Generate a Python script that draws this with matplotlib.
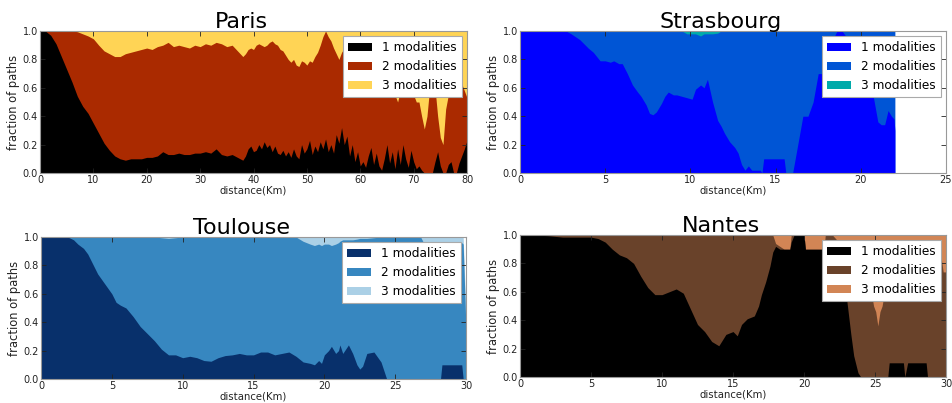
import matplotlib
matplotlib.use("Agg")
import matplotlib.pyplot as plt

labels = ["1 modalities", "2 modalities", "3 modalities"]

# ---------------- Paris ----------------
paris_km = [0, 1, 2, 3, 4, 5, 6, 7, 8, 9, 10, 11, 12, 13, 14, 15, 16, 17, 18, 19,
            20, 21, 22, 23, 24, 25, 26, 27, 28, 29, 30, 31, 32, 33, 34, 35, 36, 37, 38,
            38.5, 39, 39.5, 40, 40.5, 41, 41.5, 42, 42.5, 43, 43.5, 44, 44.5, 45, 45.5,
            46, 46.5, 47, 47.5, 48, 48.5, 49, 49.5, 50, 50.5, 51, 51.5, 52, 52.5, 53,
            53.5, 54, 54.5, 55, 55.5, 56, 56.5, 57, 57.5, 58, 58.5, 59, 59.5, 60, 60.5,
            61, 61.5, 62, 62.5, 63, 63.5, 64, 64.5, 65, 65.5, 66, 66.5, 67, 67.5, 68,
            68.5, 69, 69.5, 70, 70.5, 71, 71.5, 72, 72.5, 73, 73.5, 74, 74.5, 75, 75.5,
            76, 76.5, 77, 77.5, 78, 78.5, 79, 79.5, 80]
# share of paths with 1 modality
paris_one = [1.0, 1.0, 0.97, 0.91, 0.82, 0.73, 0.64, 0.54, 0.47, 0.42, 0.35, 0.28, 0.21,
             0.16, 0.12, 0.1, 0.09, 0.1, 0.1, 0.1, 0.11, 0.11, 0.12, 0.15, 0.13, 0.13,
             0.14, 0.13, 0.13, 0.14, 0.14, 0.15, 0.14, 0.17, 0.13, 0.12, 0.13, 0.11, 0.09,
             0.12, 0.17, 0.19, 0.15, 0.16, 0.2, 0.17, 0.22, 0.18, 0.2, 0.15, 0.19, 0.14,
             0.13, 0.16, 0.12, 0.15, 0.11, 0.17, 0.12, 0.1, 0.2, 0.14, 0.17, 0.23, 0.13,
             0.19, 0.15, 0.22, 0.17, 0.24, 0.15, 0.2, 0.14, 0.27, 0.21, 0.32, 0.2, 0.26,
             0.12, 0.2, 0.08, 0.15, 0.05, 0.08, 0.04, 0.12, 0.18, 0.06, 0.14, 0.05, 0.02,
             0.1, 0.2, 0.07, 0.15, 0.03, 0.17, 0.06, 0.2, 0.1, 0.04, 0.16, 0.08, 0.03,
             0.05, 0.02, 0.0, 0.0, 0.0, 0.0, 0.08, 0.15, 0.05, 0.0, 0.0, 0.06, 0.08, 0.0,
             0.0, 0.07, 0.12, 0.17, 0.23]
# share of paths with at most 2 modalities
paris_two = [1.0, 1.0, 1.0, 1.0, 1.0, 1.0, 1.0, 0.995, 0.98, 0.965, 0.945, 0.9, 0.86,
             0.84, 0.82, 0.82, 0.84, 0.85, 0.86, 0.87, 0.88, 0.87, 0.89, 0.9, 0.92, 0.89,
             0.9, 0.89, 0.88, 0.9, 0.89, 0.91, 0.9, 0.92, 0.91, 0.89, 0.9, 0.86, 0.82,
             0.84, 0.87, 0.88, 0.87, 0.9, 0.91, 0.9, 0.89, 0.9, 0.92, 0.93, 0.91, 0.9,
             0.87, 0.86, 0.83, 0.8, 0.78, 0.8, 0.76, 0.75, 0.79, 0.78, 0.76, 0.79, 0.78,
             0.82, 0.85, 0.9, 0.96, 1.0, 0.96, 0.93, 0.88, 0.84, 0.8, 0.85, 0.88, 0.86,
             0.84, 0.82, 0.85, 0.83, 0.8, 0.84, 0.82, 0.85, 0.83, 0.8, 0.82, 0.78, 0.8,
             0.76, 0.78, 0.72, 0.62, 0.55, 0.5, 0.58, 0.62, 0.6, 0.58, 0.6, 0.55, 0.5,
             0.5, 0.4, 0.31, 0.4, 0.6, 0.65, 0.6, 0.4, 0.25, 0.2, 0.45, 0.55, 0.58, 0.55,
             0.57, 0.6, 0.63, 0.58, 0.53]
paris_all = 1.0

# ---------------- Strasbourg ----------------
stras_km = [0, 1, 2, 2.7, 3.0, 3.5, 4.0, 4.3, 4.5, 4.7, 5.0, 5.3, 5.5, 5.8, 6.0, 6.3,
            6.6, 6.9, 7.1, 7.4, 7.6, 7.8, 8.0, 8.3, 8.5, 8.7, 9.0, 9.2, 9.5, 9.8, 10.1,
            10.3, 10.6, 10.8, 11.0, 11.3, 11.6, 11.8, 12.0, 12.3, 12.6, 12.8, 13.0, 13.2,
            13.4, 13.6, 14.1, 14.2, 14.3, 15.5, 15.6, 16.0, 16.3, 16.6, 16.9, 17.2, 17.5,
            17.8, 18.1, 18.4, 18.6, 18.9, 19.2, 19.5, 19.8, 20.1, 20.4, 20.7, 21.0, 21.2,
            21.4, 21.6, 21.8, 21.95, 22.0]
stras_one = [1.0, 1.0, 1.0, 1.0, 0.98, 0.94, 0.88, 0.85, 0.82, 0.79, 0.79, 0.78, 0.79,
             0.77, 0.77, 0.7, 0.62, 0.57, 0.54, 0.48, 0.42, 0.41, 0.43, 0.49, 0.54, 0.57,
             0.55, 0.55, 0.54, 0.53, 0.52, 0.59, 0.62, 0.6, 0.66, 0.5, 0.37, 0.33, 0.28,
             0.22, 0.18, 0.14, 0.06, 0.02, 0.05, 0.02, 0.02, 0.0, 0.1, 0.1, 0.0, 0.0, 0.2,
             0.4, 0.4, 0.5, 0.7, 0.7, 0.85, 0.95, 1.0, 1.0, 0.95, 0.88, 0.8, 0.72, 0.62,
             0.56, 0.36, 0.34, 0.34, 0.44, 0.4, 0.38, 0.3]
stras_two = [1.0, 1.0, 1.0, 1.0, 1.0, 1.0, 1.0, 1.0, 1.0, 1.0, 1.0, 1.0, 1.0, 1.0, 1.0,
             1.0, 1.0, 1.0, 1.0, 1.0, 1.0, 1.0, 1.0, 1.0, 1.0, 1.0, 1.0, 1.0, 1.0, 0.98,
             0.98, 0.98, 0.965, 0.98, 0.98, 0.98, 0.985, 1.0, 1.0, 1.0, 1.0, 1.0, 1.0,
             1.0, 1.0, 1.0, 1.0, 1.0, 1.0, 1.0, 1.0, 1.0, 1.0, 1.0, 1.0, 1.0, 1.0, 1.0,
             1.0, 1.0, 1.0, 1.0, 1.0, 1.0, 1.0, 1.0, 1.0, 1.0, 1.0, 1.0, 1.0, 1.0, 1.0,
             1.0, 1.0]
stras_all = 1.0

# ---------------- Toulouse ----------------
toul_km = [0, 1, 1.8, 2.0, 2.3, 2.6, 3.0, 3.3, 3.5, 4.0, 4.5, 5.0, 5.3, 5.6, 6.0, 6.5,
           7.0, 7.5, 8.0, 8.5, 9.0, 9.5, 10.0, 10.5, 11.0, 11.5, 12.0, 12.5, 13.0, 13.5,
           14.0, 14.5, 15.0, 15.5, 16.0, 16.5, 17.0, 17.5, 18.0, 18.5, 19.0, 19.3, 19.6,
           19.8, 20.0, 20.3, 20.5, 20.8, 21.0, 21.1, 21.3, 21.7, 22.0, 22.3, 22.5, 22.7,
           23.0, 23.5, 24.0, 24.4, 25.0, 26.0, 26.8, 27.0, 27.5, 28.0, 28.2, 28.3, 28.5,
           29.0, 29.5, 29.7, 29.8, 30.0]
toul_one = [1.0, 1.0, 1.0, 0.995, 0.98, 0.95, 0.92, 0.88, 0.84, 0.74, 0.67, 0.6, 0.54,
            0.52, 0.5, 0.44, 0.37, 0.32, 0.27, 0.21, 0.17, 0.17, 0.15, 0.16, 0.15, 0.13,
            0.125, 0.15, 0.165, 0.17, 0.18, 0.17, 0.17, 0.19, 0.19, 0.17, 0.18, 0.19,
            0.16, 0.12, 0.11, 0.1, 0.13, 0.11, 0.17, 0.2, 0.23, 0.18, 0.2, 0.24, 0.18,
            0.24, 0.18, 0.1, 0.07, 0.09, 0.18, 0.19, 0.12, 0.0, 0.0, 0.0, 0.0, 0.0, 0.0,
            0.0, 0.0, 0.1, 0.1, 0.1, 0.1, 0.1, 0.0, 0.0]
toul_two = [1.0, 1.0, 1.0, 1.0, 1.0, 1.0, 1.0, 1.0, 1.0, 1.0, 1.0, 1.0, 1.0, 1.0, 1.0,
            1.0, 1.0, 1.0, 1.0, 0.995, 0.99, 0.995, 1.0, 1.0, 1.0, 1.0, 1.0, 1.0, 1.0,
            1.0, 1.0, 1.0, 1.0, 1.0, 1.0, 1.0, 1.0, 1.0, 1.0, 0.97, 0.95, 0.94, 0.95,
            0.94, 0.95, 0.95, 0.94, 0.95, 0.96, 0.97, 0.98, 0.98, 0.98, 0.985, 0.99,
            0.99, 0.99, 0.995, 1.0, 1.0, 1.0, 1.0, 1.0, 0.96, 0.96, 0.96, 0.96, 0.96,
            0.965, 0.96, 0.96, 0.96, 0.95, 0.35]
toul_all = [1.0, 1.0, 1.0, 1.0, 1.0, 1.0, 1.0, 1.0, 1.0, 1.0, 1.0, 1.0, 1.0, 1.0, 1.0,
            1.0, 1.0, 1.0, 1.0, 1.0, 1.0, 1.0, 1.0, 1.0, 1.0, 1.0, 1.0, 1.0, 1.0, 1.0,
            1.0, 1.0, 1.0, 1.0, 1.0, 1.0, 1.0, 1.0, 1.0, 1.0, 1.0, 1.0, 1.0, 1.0, 1.0,
            1.0, 1.0, 1.0, 1.0, 1.0, 1.0, 1.0, 1.0, 1.0, 1.0, 1.0, 1.0, 1.0, 1.0, 1.0,
            1.0, 1.0, 1.0, 1.0, 1.0, 1.0, 1.0, 1.0, 1.0, 1.0, 1.0, 1.0, 1.0, 0.45]

# ---------------- Nantes ----------------
nant_km = [0, 1, 2, 2.5, 3, 4, 5, 5.5, 6, 6.5, 7, 7.5, 8, 8.5, 9, 9.5, 10, 10.5, 11,
           11.5, 12, 12.5, 13, 13.5, 14, 14.5, 15, 15.3, 15.6, 16, 16.5, 16.8, 17, 17.3,
           17.6, 17.8, 18.0, 18.3, 18.6, 19.0, 19.1, 19.3, 20.0, 20.1, 20.5, 21.0, 21.4,
           21.5, 22.0, 22.4, 22.5, 22.8, 23.0, 23.3, 23.5, 23.8, 24.0, 24.8, 24.9, 25.05,
           25.2, 25.35, 25.5, 25.6, 25.8, 25.9, 26.0, 27.0, 27.1, 27.3, 28.6, 28.7, 29.5,
           29.8, 30.0]
nant_one = [1.0, 1.0, 0.995, 0.99, 0.985, 0.985, 0.985, 0.975, 0.95, 0.9, 0.86, 0.84,
            0.8, 0.71, 0.63, 0.58, 0.58, 0.6, 0.62, 0.59, 0.48, 0.37, 0.32, 0.25, 0.22,
            0.3, 0.32, 0.29, 0.37, 0.41, 0.43, 0.5, 0.58, 0.67, 0.78, 0.88, 0.92, 0.9,
            0.9, 0.9, 0.95, 1.0, 1.0, 0.9, 0.9, 0.9, 0.9, 0.93, 0.93, 0.9, 0.88, 0.75,
            0.55, 0.3, 0.15, 0.03, 0.0, 0.0, 0.0, 0.0, 0.0, 0.0, 0.0, 0.0, 0.0, 0.0, 0.1,
            0.1, 0.0, 0.1, 0.1, 0.0, 0.0, 0.0, 0.0]
nant_two = [1.0, 1.0, 1.0, 1.0, 1.0, 1.0, 1.0, 1.0, 1.0, 1.0, 1.0, 1.0, 1.0, 1.0, 1.0,
            1.0, 1.0, 1.0, 1.0, 1.0, 1.0, 1.0, 1.0, 1.0, 1.0, 1.0, 1.0, 1.0, 1.0, 1.0,
            1.0, 1.0, 1.0, 1.0, 1.0, 1.0, 0.94, 0.92, 0.9, 0.9, 1.0, 1.0, 1.0, 0.9, 0.9,
            0.9, 0.9, 1.0, 1.0, 0.955, 0.955, 0.955, 0.955, 0.955, 0.955, 0.955, 0.955,
            0.56, 0.5, 0.46, 0.36, 0.46, 0.5, 0.56, 0.955, 0.955, 0.955, 0.955, 0.955,
            0.955, 0.955, 0.955, 0.955, 0.74, 0.74]
nant_all = 1.0

W, H = 952, 403
fig = plt.figure(figsize=(W / 100, H / 100), dpi=100)
fig.patch.set_facecolor("white")


def rect(x0, x1, ytop, ybot):
    return [x0 / W, 1 - ybot / H, (x1 - x0) / W, (ybot - ytop) / H]


def panel(r, title, km, one, two, total, cmap, xmax, xstep):
    ax = fig.add_axes(r)
    cm = plt.get_cmap(cmap)
    # back-to-front so neighbouring layers share no seam
    h3 = ax.fill_between(km, 0, total, color=cm(2 / 3), lw=0)
    h2 = ax.fill_between(km, 0, two, color=cm(1 / 3), lw=0)
    h1 = ax.fill_between(km, 0, one, color=cm(0 / 3), lw=0)
    ax.set_xlim(0, xmax)
    ax.set_ylim(0, 1)
    ax.set_xticks(list(range(0, xmax + 1, xstep)))
    ax.set_yticks([0.0, 0.2, 0.4, 0.6, 0.8, 1.0])
    ax.set_yticklabels(["0.0", "0.2", "0.4", "0.6", "0.8", "1.0"])
    ax.tick_params(direction="in", top=True, right=True, length=3.5, width=0.6,
                   labelsize=7, pad=1.5, colors="#222222")
    for s in ax.spines.values():
        s.set_color("#999999")
        s.set_linewidth(0.8)
    ax.set_title(title, fontsize=16, x=0.472, pad=2)
    ax.set_xlabel("distance(Km)", fontsize=7.3, labelpad=0.5, color="#222222")
    ax.set_ylabel("fraction of paths", fontsize=8.3, labelpad=2, color="#222222")
    leg = ax.legend([h1, h2, h3], labels, loc="upper right", fontsize=8.7,
                    fancybox=False, framealpha=1, borderpad=0.4, labelspacing=0.5,
                    handlelength=2.0, handletextpad=0.8, borderaxespad=0.45)
    leg.get_frame().set_edgecolor("#aaaaaa")
    leg.get_frame().set_linewidth(0.8)
    return ax


panel(rect(40, 467, 31, 173), "Paris", paris_km, paris_one, paris_two, paris_all,
      "afmhot", 80, 10)
panel(rect(520, 946, 31, 173), "Strasbourg", stras_km, stras_one, stras_two, stras_all,
      "winter", 25, 5)
panel(rect(41, 466, 237, 379), "Toulouse", toul_km, toul_one, toul_two, toul_all,
      "Blues_r", 30, 5)
panel(rect(520, 946, 235, 377), "Nantes", nant_km, nant_one, nant_two, nant_all,
      "copper", 30, 5)

fig.savefig("out.png", dpi=100, facecolor="white")
